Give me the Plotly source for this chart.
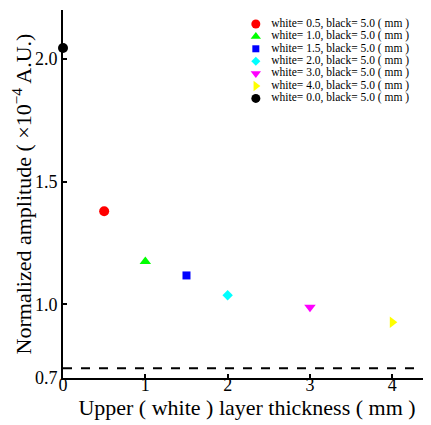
import plotly.graph_objects as go

names = ["white= 0.5, black= 5.0 ( mm )", "white= 1.0, black= 5.0 ( mm )",
         "white= 1.5, black= 5.0 ( mm )", "white= 2.0, black= 5.0 ( mm )",
         "white= 3.0, black= 5.0 ( mm )", "white= 4.0, black= 5.0 ( mm )",
         "white= 0.0, black= 5.0 ( mm )"]
thickness = [0.5, 1.0, 1.5, 2.0, 3.0, 4.0, 0.0]
amplitude = [1.38, 1.175, 1.118, 1.037, 0.988, 0.927, 2.045]
colors = ["#ff0000", "#00ff00", "#0000ff", "#00ffff", "#ff00ff", "#ffff00", "#000000"]
symbols = ["circle", "triangle-up", "square", "diamond", "triangle-down", "triangle-right", "circle"]
baseline = 0.74
xticks = [0, 1, 2, 3, 4]
yticks = [0.7, 1.0, 1.5, 2.0]
yticktext = ["0.7", "1.0", "1.5", "2.0"]

font = "Liberation Serif"
sizes = {"circle": 10, "triangle-up": 10, "square": 8, "diamond": 8,
         "triangle-down": 10, "triangle-right": 10}

fig = go.Figure()
for n, x, y, c, s in zip(names, thickness, amplitude, colors, symbols):
    fig.add_trace(go.Scatter(x=[x], y=[y], mode="markers", name=n, showlegend=False,
                             marker=dict(color=c, symbol=s, size=sizes[s], line=dict(width=0)),
                             cliponaxis=False))
fig.add_trace(go.Scatter(x=[0, 4.47], y=[baseline, baseline], mode="lines",
                         line=dict(color="black", width=2, dash="dash"), showlegend=False))

# custom compact legend (marker + label), placed in an overlay unit axis
leg_x = 0.524
leg_y0 = 0.962
leg_dy = 0.0337
for i, (n, c, s) in enumerate(zip(names, colors, symbols)):
    yy = leg_y0 - i * leg_dy
    fig.add_trace(go.Scatter(x=[leg_x], y=[yy], xaxis="x2", yaxis="y2", mode="markers",
                             showlegend=False, hoverinfo="skip",
                             marker=dict(color=c, symbol=s, size=sizes[s] - 1, line=dict(width=0))))
    fig.add_trace(go.Scatter(x=[0.566], y=[yy], xaxis="x2", yaxis="y2", mode="text",
                             text=[n], textposition="middle right", showlegend=False,
                             hoverinfo="skip", cliponaxis=False,
                             textfont=dict(size=11.5, family=font, color="black")))

fig.update_layout(
    width=423, height=417,
    margin=dict(l=55, r=0, t=2, b=47),
    plot_bgcolor="white", paper_bgcolor="white",
    font=dict(family=font, size=18, color="black"),
    showlegend=False,
    xaxis=dict(range=[0, 4.47], tickvals=xticks, showgrid=False, zeroline=False,
               showline=True, linecolor="black", linewidth=2, automargin=False,
               ticks="inside", ticklen=4, tickwidth=1.5, tickcolor="black",
               title=dict(text="Upper ( white ) layer thickness ( mm )", standoff=5),
               ticklabelstandoff=-11),
    yaxis=dict(range=[0.7, 2.2], tickvals=yticks, ticktext=yticktext, showgrid=False,
               zeroline=False, showline=True, linecolor="black", linewidth=2, automargin=False,
               ticks="inside", ticklen=4, tickwidth=1.5, tickcolor="black",
               title=dict(text="Normalized amplitude ( ×10<sup>−4</sup> A.U.)", standoff=4),
               ticklabelstandoff=0),
    xaxis2=dict(range=[0, 1], overlaying="x", visible=False),
    yaxis2=dict(range=[0, 1], overlaying="y", visible=False),
)
fig.write_html("out.html")
